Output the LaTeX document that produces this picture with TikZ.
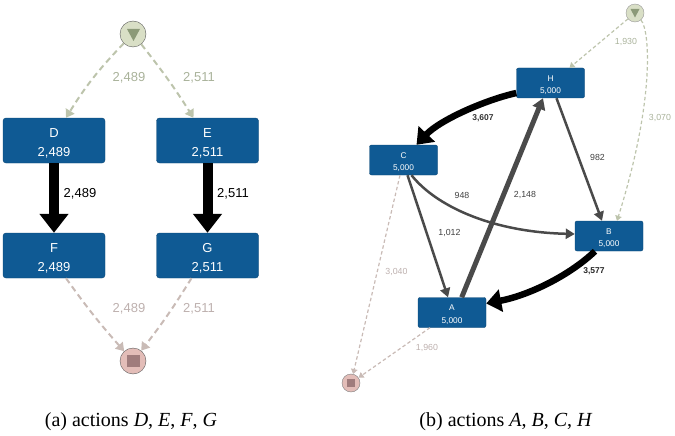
\documentclass[tikz,border=0pt]{standalone}
\usepackage{fontspec}
\setmainfont{Liberation Serif}
\newfontfamily\lab{Liberation Sans}
\usetikzlibrary{arrows.meta,calc}
\definecolor{boxblue}{HTML}{0F5A94}
\definecolor{boxedge}{HTML}{0B4674}
\definecolor{greenline}{HTML}{BDC4AC}
\definecolor{redline}{HTML}{C9BBB6}
\definecolor{greentxt}{HTML}{A9B29A}
\definecolor{redtxt}{HTML}{BDB0AE}
\definecolor{flowdark}{HTML}{4A4A4A}
\definecolor{startfill}{HTML}{D9DFC6}
\definecolor{endfill}{HTML}{E3BDB8}
\definecolor{greenglyph}{HTML}{8C9A78}
\definecolor{redglyph}{HTML}{A07C7C}
\newcommand{\biglab}[2]{\rule{0pt}{14pt}#1\\#2}
\newcommand{\smalllab}[2]{\rule{0pt}{10pt}#1\\#2}
\tikzset{
 x=1pt,y=-1pt,
 actbig/.style={draw=boxedge,fill=boxblue,rounded corners=3pt,minimum width=102pt,minimum height=45pt,inner sep=0pt,text=white,font=\lab\fontsize{13}{19}\selectfont,align=center},
 actsmall/.style={draw=boxedge,fill=boxblue,rounded corners=2pt,minimum width=68pt,minimum height=30pt,inner sep=0pt,text=white,font=\lab\fontsize{8.3}{12.5}\selectfont,align=center},
 startbig/.style={circle,draw=black!65,minimum size=26pt,inner sep=0pt,fill=startfill},
 endbig/.style={circle,draw=black!65,minimum size=26pt,inner sep=0pt,fill=endfill},
 startsmall/.style={startbig,minimum size=18pt,draw=black!40},
 endsmall/.style={endbig,minimum size=18pt,draw=black!50},
 dashbig/.style={dash pattern=on 6pt off 4pt,line width=2pt,-{Triangle[length=8pt,width=10pt]}},
 dashsmall/.style={dash pattern=on 3.5pt off 2.5pt,line width=1.2pt,-{Triangle[length=5pt,width=6.5pt]}},
 lbig/.style={font=\lab\fontsize{13}{15}\selectfont,inner sep=0pt},
 lsmall/.style={font=\lab\fontsize{8.8}{10}\selectfont,inner sep=0pt},
 caption/.style={font=\fontsize{20}{23}\selectfont,inner sep=0pt},
 greenmark/.style={fill=greenglyph,draw=none},
 redmark/.style={fill=redglyph,draw=none},
}
\begin{document}
\begin{tikzpicture}
\useasboundingbox (0,0) rectangle (675,436);
% left
\node[startbig] (sa) at (133,34) {};
\node[endbig] (ea) at (133,361) {};
\fill[greenmark] (127,29) -- (140,29) -- (133.5,41) -- cycle;
\fill[redmark] (127,355) rectangle (140,367);
\node[actbig] (D) at (54,140.5) {\biglab{D}{2,489}};
\node[actbig] (E) at (207.5,140.5) {\biglab{E}{2,511}};
\node[actbig] (F) at (54,255.5) {\biglab{F}{2,489}};
\node[actbig] (G) at (207.5,255.5) {\biglab{G}{2,511}};
\draw[dashbig,greenline] (sa) to[bend right=6] ([xshift=12pt]D.north);
\draw[dashbig,greenline] (sa) to[bend left=3] ([xshift=-14pt]E.north);
\draw[dashbig,redline] ([xshift=12pt]F.south) to[bend right=3] (ea);
\draw[dashbig,redline] ([xshift=-16pt]G.south) to[bend left=3] (ea);
\draw[line width=10pt,-{Triangle[length=19pt,width=28pt]}] (D.south) -- (F.north);
\draw[line width=10pt,-{Triangle[length=19pt,width=28pt]}] (E.south) -- (G.north);
\node[lbig,text=greentxt] (l1) at (129,78) {2,489};
\node[lbig,text=greentxt] (l2) at (199,78) {2,511};
\node[lbig] (l3) at (80,194) {2,489};
\node[lbig] (l4) at (233,194) {2,511};
\node[lbig,text=redtxt] (l5) at (129,309) {2,489};
\node[lbig,text=redtxt] (l6) at (199,309) {2,511};
\node[caption] (ca) at (131,422) {(a) actions \textit{D}, \textit{E}, \textit{F}, \textit{G}};
% right
\node[startsmall] (sb) at (635,13) {};
\node[endsmall] (eb) at (351,383) {};
\fill[greenmark] (630.5,9) -- (639.5,9) -- (635,17.5) -- cycle;
\fill[redmark] (347,379) rectangle (355,387);
\node[actsmall] (H) at (550.5,83) {\smalllab{H}{5,000}};
\node[actsmall] (C) at (403.5,160) {\smalllab{C}{5,000}};
\node[actsmall] (B) at (609,236) {\smalllab{B}{5,000}};
\node[actsmall] (A) at (452,312.5) {\smalllab{A}{5,000}};
\draw[dashsmall,greenline] (sb) -- ([xshift=19pt]H.north);
\draw[dashsmall,greenline] (sb.-50) .. controls (650,30) and (655,100) .. ([xshift=8pt]B.north);
\draw[dashsmall,redline] ([xshift=-3.5pt]C.south) -- (eb);
\draw[dashsmall,redline] ([xshift=-22pt]A.south) -- (eb);
\draw[line width=6.5pt,black,-{Triangle[length=15pt,width=22pt]}] ([yshift=-10pt]H.west) .. controls (485,100) and (440,120) .. ([xshift=13pt]C.north);
\draw[line width=6.5pt,black,-{Triangle[length=15pt,width=22pt]}] ([xshift=-14pt]B.south) .. controls (570,275) and (530,295) .. ([yshift=9pt]A.east);
\draw[line width=5pt,flowdark,-{Triangle[length=11pt,width=13pt]}] ([xshift=9.7pt]A.north) -- ([xshift=-7.5pt]H.south);
\draw[line width=2.5pt,flowdark,-{Triangle[length=9pt,width=10pt]}] ([xshift=4pt]C.south) -- ([xshift=-4pt]A.north);
\draw[line width=2.5pt,flowdark,-{Triangle[length=9pt,width=10pt]}] ([xshift=8pt]C.south) .. controls (435,205) and (490,232) .. ([yshift=2pt]B.west);
\draw[line width=2.5pt,flowdark,-{Triangle[length=9pt,width=10pt]}] ([xshift=6pt]H.south) -- ([xshift=-7pt]B.north);
\node[lsmall,text=greentxt] (m1) at (626,42) {1,930};
\node[lsmall,text=greentxt] (m2) at (660,118) {3,070};
\node[lsmall,text=black!80,font=\lab\bfseries\fontsize{8.5}{10}\selectfont] (m3) at (483,118.5) {3,607};
\node[lsmall,text=black!75] (m4) at (597.5,157) {982};
\node[lsmall,text=black!75] (m5) at (462,195) {948};
\node[lsmall,text=black!75] (m6) at (525,195) {2,148};
\node[lsmall,text=black!75] (m7) at (449.5,233) {1,012};
\node[lsmall,text=black!85,font=\lab\bfseries\fontsize{8.5}{10}\selectfont] (m8) at (594,271) {3,577};
\node[lsmall,text=redtxt] (m9) at (396.5,271.5) {3,040};
\node[lsmall,text=redtxt] (m10) at (427,348) {1,960};
\node[caption] (cb) at (506,422) {(b) actions \textit{A}, \textit{B}, \textit{C}, \textit{H}};
\end{tikzpicture}
\end{document}
